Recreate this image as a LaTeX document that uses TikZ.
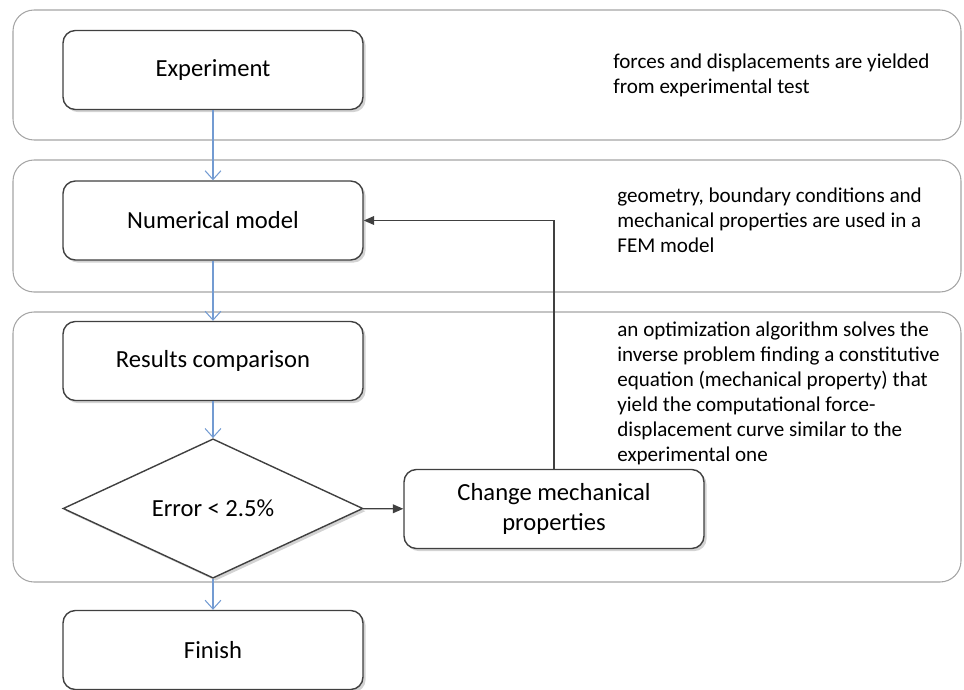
\documentclass[tikz,border=0pt]{standalone}
\usepackage{fontspec}
\setmainfont{Carlito}
\usetikzlibrary{arrows.meta, positioning, shapes.geometric, shadows}
\definecolor{DG}{RGB}{64,64,64}
\definecolor{BL}{RGB}{115,155,210}
\definecolor{PG}{RGB}{165,165,165}

\begin{document}
\begin{tikzpicture}[
  x=0.02cm, y=-0.02cm,
  box/.style={draw=DG, line width=0.8pt, rounded corners=7pt, fill=white,
              minimum width=6cm, minimum height=1.58cm, align=center,
              font=\fontsize{14}{17}\selectfont,
              drop shadow={shadow xshift=1.5pt, shadow yshift=-1.5pt, opacity=0.35}},
  dec/.style={diamond, draw=DG, line width=0.8pt, fill=white, inner sep=0pt,
              minimum width=6cm, minimum height=2.54cm,
              font=\fontsize{14}{17}\selectfont,
              drop shadow={shadow xshift=1.5pt, shadow yshift=-1.5pt, opacity=0.35}},
  panel/.style={draw=PG, line width=0.6pt, rounded corners=12pt},
  arr/.style={-{Straight Barb[length=5pt, width=9pt]}, draw=BL, line width=0.6pt},
  fb/.style={-{Triangle[length=6pt, width=5pt]}, draw=DG, line width=0.8pt},
  note/.style={font=\fontsize{12}{14.2}\selectfont, anchor=west, align=left,
               inner sep=0pt}
]
\useasboundingbox (0,0) rectangle (964,690);

% stage frames
\draw[panel] (13,10)  rectangle (961,140);
\draw[panel] (13,160) rectangle (961,292);
\draw[panel] (13,312) rectangle (961,582);

% flow
\node[box] (exp) at (213,70)    {Experiment};
\node[box] (num) at (213,220.5) {Numerical model};
\node[box] (res) at (213,361)   {Results comparison};
\node[dec] (err) at (213,508.5) {Error < 2.5\%};
\node[box] (chg) at (554,509)   {Change mechanical\\properties};
\node[box] (fin) at (213,650)   {Finish};

\draw[arr] (exp)--(num);
\draw[arr] (num)--(res);
\draw[arr] (res)--(err);
\draw[arr] (err)--(fin);
\draw[fb]  (err)--(chg);
\draw[fb]  (chg) |- (num);

% explanations
\node[note] (n1) at (613,75.5)  {forces and displacements are yielded\\from experimental test};
\node[note] (n2) at (617,220.5) {geometry, boundary conditions and\\mechanical properties are used in a\\FEM model};
\node[note] (n3) at (617,393.5) {an optimization algorithm solves the\\inverse problem finding a constitutive\\equation (mechanical property) that\\yield the computational force-\\displacement curve similar to the\\experimental one};
\end{tikzpicture}
\end{document}
